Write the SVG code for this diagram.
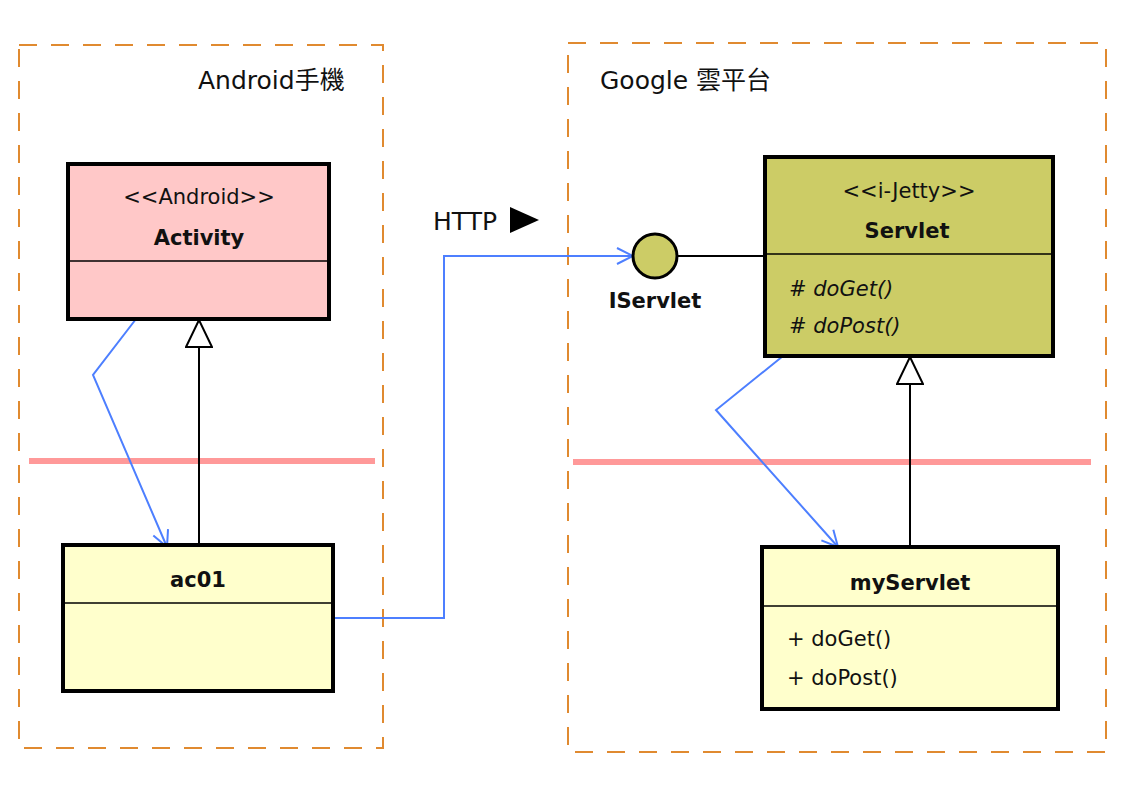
<svg xmlns="http://www.w3.org/2000/svg" width="1134" height="796" viewBox="0 0 1134 796">
<style>
text{font-family:"DejaVu Sans","Noto Sans CJK TC",sans-serif;font-size:21px;fill:#111}
.lg{font-size:25px}
.b{font-weight:bold}
.i{font-style:italic}
.m{text-anchor:middle}
.cont{fill:none;stroke:#e08a30;stroke-width:2;stroke-dasharray:18 14}
.box{stroke:#000;stroke-width:4}
.div{stroke:#000;stroke-width:1.5}
.sep{stroke:#ff9999;stroke-width:6}
.dep{fill:none;stroke:#4d7fff;stroke-width:2}
.gen{fill:none;stroke:#000;stroke-width:2}
</style>
<defs>
<marker id="open" viewBox="0 0 20 20" refX="18" refY="10" markerWidth="20" markerHeight="20" markerUnits="userSpaceOnUse" orient="auto">
<path d="M2,2 L18,10 L2,18" fill="none" stroke="#4d7fff" stroke-width="2"/>
</marker>
<marker id="tri" viewBox="0 0 32 28" refX="30" refY="14" markerWidth="32" markerHeight="28" markerUnits="userSpaceOnUse" orient="auto">
<path d="M3,1 L30,14 L3,27 Z" fill="#fff" stroke="#000" stroke-width="2"/>
</marker>
</defs>
<rect width="1134" height="796" fill="#fff"/>
<g id="container-android">
<rect class="cont" x="19" y="45" width="364" height="703"/>
<text class="lg" x="198" y="89">Android手機</text>
</g>
<g id="container-google">
<rect class="cont" x="568" y="43" width="538" height="709"/>
<text class="lg" x="600" y="89">Google 雲平台</text>
</g>
<g id="separators">
<line class="sep" x1="29" y1="461" x2="375" y2="461"/>
<line class="sep" x1="573" y1="462" x2="1091" y2="462"/>
</g>
<g id="connectors">
<polyline class="dep" points="136,319 93,375 167,547" marker-end="url(#open)"/>
<line class="gen" x1="199" y1="545" x2="199" y2="320" marker-end="url(#tri)"/>
<polyline class="dep" points="783,356 716,410 838,547" marker-end="url(#open)"/>
<line class="gen" x1="910" y1="547" x2="910" y2="357" marker-end="url(#tri)"/>
<polyline class="dep" points="333,618 444,618 444,256 633,256" marker-end="url(#open)"/>
<line class="gen" x1="677" y1="256" x2="765" y2="256"/>
</g>
<g id="http-label">
<text class="lg" x="433" y="230">HTTP</text>
<polygon points="510,207 539,220 510,233" fill="#000"/>
</g>
<g id="activity">
<rect class="box" x="68" y="164" width="261" height="155" fill="#ffc8c8"/>
<line class="div" x1="68" y1="261" x2="329" y2="261"/>
<text class="m" x="199" y="204">&lt;&lt;Android&gt;&gt;</text>
<text class="m b" x="199" y="245">Activity</text>
</g>
<g id="ac01">
<rect class="box" x="63" y="545" width="270" height="146" fill="#ffffcc"/>
<line class="div" x1="63" y1="603" x2="333" y2="603"/>
<text class="m b" x="198" y="587">ac01</text>
</g>
<g id="iservlet">
<circle cx="655" cy="256" r="22" fill="#cccc66" stroke="#000" stroke-width="3"/>
<text class="m b" x="655" y="308">IServlet</text>
</g>
<g id="servlet">
<rect class="box" x="765" y="157" width="288" height="199" fill="#cccc66"/>
<line class="div" x1="765" y1="254" x2="1053" y2="254"/>
<text class="m" x="909" y="198">&lt;&lt;i-Jetty&gt;&gt;</text>
<text class="m b" x="907" y="238">Servlet</text>
<text x="789" y="296"># <tspan class="i">doGet()</tspan></text>
<text x="789" y="333"># <tspan class="i">doPost()</tspan></text>
</g>
<g id="myservlet">
<rect class="box" x="762" y="547" width="296" height="162" fill="#ffffcc"/>
<line class="div" x1="762" y1="606" x2="1058" y2="606"/>
<text class="m b" x="910" y="590">myServlet</text>
<text x="787" y="646">+ doGet()</text>
<text x="787" y="685">+ doPost()</text>
</g>
</svg>
